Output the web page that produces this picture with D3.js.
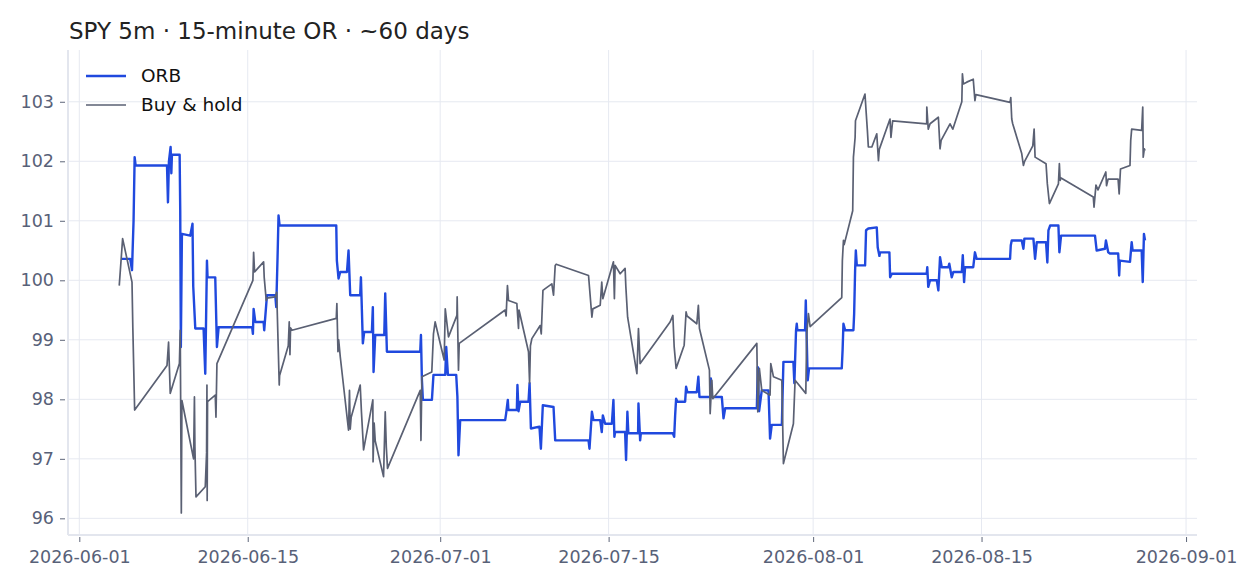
<!DOCTYPE html>
<html>
<head>
<meta charset="utf-8">
<script src="https://cdn.jsdelivr.net/npm/d3@7"></script>
<style>
body { margin: 0; background: #fff; }
svg { font-family: "DejaVu Sans", sans-serif; }
</style>
</head>
<body>
<div id="plothere"></div>
<script>
// days after 2026-06-01 00:00 UTC, value
var orb = [
[3.53,100.36],[4.23,100.36],[4.38,100.17],[4.51,101.0],[4.60,102.07],[4.68,101.93],[7.29,101.93],[7.37,101.31],[7.45,102.0],[7.59,102.24],[7.65,101.8],[7.70,102.11],
[8.34,102.11],[8.39,101.17],[8.44,98.88],[8.53,100.78],[9.22,100.75],[9.41,100.95],[9.47,99.9],[9.64,99.19],[10.33,99.19],[10.47,98.43],[10.61,100.33],[10.66,100.05],
[11.30,100.05],[11.44,98.88],[11.58,99.21],[14.37,99.21],[14.43,99.10],[14.49,99.52],[14.63,99.30],[15.32,99.30],[15.37,99.16],[15.60,99.75],[16.29,99.75],[16.37,99.55],
[16.48,100.39],[16.56,101.09],[16.65,100.92],[21.36,100.92],[21.41,100.33],[21.55,100.03],[21.69,100.14],[22.25,100.14],[22.38,100.50],[22.52,99.75],[23.35,99.75],
[23.41,100.05],[23.57,98.94],[23.68,99.13],[24.32,99.13],[24.40,99.55],[24.46,98.46],[24.60,99.08],[25.35,99.08],[25.43,99.78],[25.57,98.80],[28.34,98.80],[28.40,99.08],
[28.48,98.32],[28.56,97.99],[29.31,97.99],[29.44,98.41],[30.42,98.41],[30.50,98.88],[30.64,98.41],[31.33,98.41],[31.43,98.04],[31.52,97.06],[31.66,97.65],[35.40,97.65],
[35.48,97.76],[35.62,97.99],[35.67,97.82],[36.37,97.82],[36.42,98.24],[36.51,97.80],[36.65,97.96],[37.34,97.96],[37.43,98.27],[37.54,97.51],[38.25,97.54],[38.37,97.17],
[38.53,97.90],[39.42,97.87],[39.56,97.31],[42.33,97.31],[42.41,97.17],[42.61,97.79],[42.74,97.65],[43.30,97.65],[43.43,97.45],[43.52,97.73],[43.71,97.59],[44.27,97.59],
[44.40,97.99],[44.48,97.37],[44.54,97.45],[45.37,97.45],[45.45,96.98],[45.56,97.79],[45.64,97.43],[46.45,97.43],[46.48,97.93],[46.62,97.31],[46.68,97.43],[49.34,97.43],
[49.45,97.37],[49.53,97.73],[49.61,98.01],[49.72,97.96],[50.36,97.96],[50.44,98.21],[50.55,98.12],[51.33,98.12],[51.46,98.38],[51.55,98.04],[52.44,98.04],[52.50,98.35],
[52.58,98.04],[53.41,98.04],[53.55,97.68],[53.69,97.85],[56.32,97.85],[56.40,98.54],[56.51,97.8],[56.73,98.15],[57.29,98.15],[57.42,97.34],[57.56,97.57],[58.40,97.57],
[58.53,98.63],[59.36,98.63],[59.44,98.27],[59.58,99.16],[59.64,99.27],[59.69,99.16],[60.33,99.16],[60.39,99.66],[60.47,98.99],[60.55,98.32],[60.66,98.52],[63.38,98.52],
[63.45,98.83],[63.52,99.27],[63.66,99.16],[64.35,99.16],[64.41,99.44],[64.49,100.17],[64.55,100.50],[64.63,100.25],[65.32,100.25],[65.40,100.84],[65.59,100.87],[66.29,100.89],
[66.37,100.55],[66.51,100.41],[66.57,100.47],[67.34,100.47],[67.40,100.05],[67.54,100.11],[70.44,100.11],[70.49,100.22],[70.57,99.89],[70.72,100.0],[71.28,100.0],[71.41,99.83],
[71.55,100.39],[71.69,100.22],[72.24,100.22],[72.32,100.28],[72.52,100.05],[72.66,100.14],[73.36,100.14],[73.44,100.42],[73.55,99.97],[73.63,100.22],[74.31,100.22],
[74.45,100.47],[74.59,100.36],[77.37,100.36],[77.43,100.59],[77.51,100.67],[78.34,100.67],[78.48,100.53],[78.56,100.70],[79.31,100.70],[79.45,100.36],[79.59,100.64],
[80.36,100.64],[80.47,100.30],[80.56,100.84],[80.70,100.92],[81.39,100.92],[81.47,100.47],[81.61,100.75],[84.43,100.75],[84.57,100.50],[85.26,100.53],[85.34,100.67],
[85.53,100.47],[85.67,100.45],[86.36,100.45],[86.44,100.08],[86.50,100.33],[87.34,100.31],[87.48,100.64],[87.56,100.50],[88.31,100.50],[88.40,99.97],[88.50,100.78],[88.59,100.67]
];
var buyHold = [
[3.32,99.91],[3.60,100.70],[4.38,99.97],[4.45,99.2],[4.60,97.82],[7.29,98.57],[7.42,98.96],[7.56,98.10],[8.32,98.6],[8.39,99.16],[8.48,96.09],[8.53,97.98],
[9.50,97.0],[9.57,98.04],[9.61,97.2],[9.70,96.36],[10.47,96.53],[10.58,97.1],[10.61,98.24],[10.63,96.3],[10.66,97.96],[11.30,98.07],[11.36,97.70],[11.44,98.60],
[14.43,100.0],[14.49,100.47],[14.57,100.14],[15.32,100.31],[15.37,100.05],[15.54,99.66],[15.60,99.70],[16.29,99.72],[16.41,99.8],[16.62,98.24],[16.65,98.4],
[17.37,98.9],[17.45,99.30],[17.51,98.75],[17.56,99.2],[17.68,99.16],[21.36,99.36],[21.41,99.61],[21.50,98.80],[21.56,99.0],[21.69,98.72],[22.38,97.48],[22.46,98.15],
[22.52,97.50],[22.60,97.7],[23.35,98.24],[23.45,97.8],[23.63,97.15],[24.40,97.99],[24.42,96.95],[24.51,97.6],[24.60,97.3],[25.29,96.70],[25.43,97.79],[25.52,97.2],
[25.62,96.84],[28.34,98.15],[28.40,97.31],[28.48,98.38],[29.30,98.46],[29.44,99.10],[29.58,99.30],[30.33,98.66],[30.42,99.52],[30.69,99.05],[31.39,99.41],[31.41,99.72],
[31.52,98.49],[31.58,98.94],[35.40,99.50],[35.48,99.40],[35.59,99.91],[35.68,99.66],[36.37,99.61],[36.51,99.19],[36.55,99.50],[37.34,98.80],[37.43,98.27],[37.50,98.9],
[37.62,99.02],[38.31,99.24],[38.40,99.1],[38.54,99.83],[38.73,99.86],[39.28,99.94],[39.42,99.75],[39.56,100.25],[39.64,100.27],[42.33,100.08],[42.61,99.38],[42.69,99.52],
[43.30,99.58],[43.43,99.97],[43.52,99.69],[44.40,100.31],[44.48,99.69],[44.54,100.25],[44.96,100.11],[45.37,100.20],[45.43,99.9],[45.58,99.38],[46.35,98.43],[46.48,99.19],
[46.62,98.60],[49.11,99.30],[49.34,99.41],[49.45,98.88],[49.61,98.52],[50.28,98.91],[50.44,99.47],[50.52,99.40],[51.33,99.27],[51.46,99.58],[51.55,99.19],[52.38,98.49],
[52.44,97.76],[52.58,98.32],[52.66,98.01],[56.32,98.94],[56.40,97.79],[56.53,98.52],[56.73,98.15],[57.42,98.07],[57.48,98.60],[57.70,98.38],[58.40,98.32],[58.53,96.92],
[59.36,97.59],[59.50,98.32],[60.39,98.10],[60.47,99.10],[60.61,99.44],[60.75,99.22],[63.38,99.71],[63.43,100.33],[63.52,100.67],[63.58,100.6],[64.29,101.17],[64.35,102.07],
[64.49,102.40],[64.52,102.68],[65.31,103.13],[65.40,102.85],[65.51,102.52],[65.59,102.24],[65.88,102.24],[66.29,102.46],[66.43,102.01],[66.50,102.2],[67.39,102.71],
[67.47,102.40],[67.61,102.68],[70.44,102.63],[70.45,102.91],[70.57,102.54],[70.72,102.63],[71.41,102.74],[71.55,102.21],[71.64,102.35],[72.38,102.63],[72.61,102.54],
[73.36,103.0],[73.41,103.47],[73.49,103.30],[73.77,103.33],[74.31,103.38],[74.45,103.02],[74.53,103.12],[77.37,102.99],[77.43,103.07],[77.51,102.71],[77.59,102.63],
[78.34,102.13],[78.48,101.93],[78.58,102.0],[79.26,102.26],[79.37,102.54],[79.45,102.07],[80.36,101.96],[80.47,101.62],[80.64,101.29],[81.39,101.62],[81.47,101.96],
[81.53,101.68],[81.61,101.72],[84.29,101.40],[84.35,101.23],[84.51,101.60],[84.68,101.52],[85.33,101.82],[85.39,101.59],[85.52,101.70],[86.35,101.70],[86.44,101.45],
[86.55,101.87],[87.34,101.93],[87.40,102.35],[87.48,102.54],[88.31,102.52],[88.40,102.91],[88.44,102.07],[88.53,102.21],[88.59,102.18]
];
var xTicks = ["2026-06-01", "2026-06-15", "2026-07-01", "2026-07-15", "2026-08-01", "2026-08-15", "2026-09-01"];
var yTicks = [96, 97, 98, 99, 100, 101, 102, 103];
var seriesNames = ["ORB", "Buy & hold"];
var titleText = "SPY 5m \u00b7 15-minute OR \u00b7 ~60 days";

var W = 1260, H = 588;
var margin = {top: 50, right: 63, bottom: 53, left: 68},
    width = W - margin.left - margin.right,
    height = H - margin.top - margin.bottom;
var t0 = Date.UTC(2026, 5, 1);
function toDate(d) { return new Date(t0 + d * 86400000); }

var svg = d3.select("#plothere")
  .append("svg")
  .attr("width", W)
  .attr("height", H);
var g = svg.append("g")
  .attr("transform", "translate(" + margin.left + "," + margin.top + ")");

var x = d3.scaleUtc()
  .domain([toDate(-0.94), toDate(92.91)])
  .range([0, width]);
var y = d3.scaleLinear()
  .domain([95.72, 103.87])
  .range([height, 0]);
var tickDates = xTicks.map(function(s) { return new Date(s + "T00:00:00Z"); });

// grid
g.append("g").selectAll("line.hg")
  .data(yTicks).enter().append("line")
  .attr("x1", 0).attr("x2", width)
  .attr("y1", function(d) { return y(d); }).attr("y2", function(d) { return y(d); })
  .attr("stroke", "#e6e9f1").attr("stroke-width", 1);
g.append("g").selectAll("line.vg")
  .data(tickDates).enter().append("line")
  .attr("y1", 0).attr("y2", height)
  .attr("x1", function(d) { return x(d); }).attr("x2", function(d) { return x(d); })
  .attr("stroke", "#e6e9f1").attr("stroke-width", 1);

// axes
var xAxis = g.append("g")
  .attr("transform", "translate(0," + (height + 2) + ")")
  .call(d3.axisBottom(x).tickValues(tickDates).tickFormat(d3.utcFormat("%Y-%m-%d")).tickSize(5).tickPadding(9));
var yAxis = g.append("g")
  .attr("transform", "translate(-3,0)")
  .call(d3.axisLeft(y).tickValues(yTicks).tickSize(5).tickPadding(6));
[xAxis, yAxis].forEach(function(a) {
  a.select(".domain").remove();
  a.selectAll("line").attr("stroke", "#5e6679");
  a.selectAll("text").attr("fill", "#586178").style("font-size", "17.5px").style("font-family", "DejaVu Sans");
});
g.append("line").attr("x1", 0).attr("x2", width).attr("y1", height).attr("y2", height)
  .attr("stroke", "#e3e6ee").attr("stroke-width", 2);
g.append("line").attr("x1", 0).attr("x2", 0).attr("y1", 0).attr("y2", height)
  .attr("stroke", "#e3e6ee").attr("stroke-width", 2);

var line = d3.line()
  .x(function(d) { return x(toDate(d[0])); })
  .y(function(d) { return y(d[1]); });
g.append("path").datum(orb)
  .attr("d", line).attr("fill", "none")
  .attr("stroke", "#2049de").attr("stroke-width", 2.4).attr("stroke-linejoin", "round");
g.append("path").datum(buyHold)
  .attr("d", line).attr("fill", "none")
  .attr("stroke", "#5a6073").attr("stroke-width", 1.7).attr("stroke-linejoin", "round");

// title + legend
svg.append("text").attr("x", 69).attr("y", 39)
  .attr("fill", "#222").style("font-size", "23px").text(titleText);
var lg = svg.append("g");
var colors = ["#2049de", "#5a6073"], widths = [2.4, 1.7];
seriesNames.forEach(function(n, i) {
  var yy = 76 + i * 29;
  lg.append("line").attr("x1", 86).attr("x2", 126).attr("y1", yy).attr("y2", yy)
    .attr("stroke", colors[i]).attr("stroke-width", widths[i]);
  lg.append("text").attr("x", 141).attr("y", yy).attr("dy", "0.35em")
    .attr("fill", "#111").style("font-size", "18.5px").text(n);
});
</script>
</body>
</html>
